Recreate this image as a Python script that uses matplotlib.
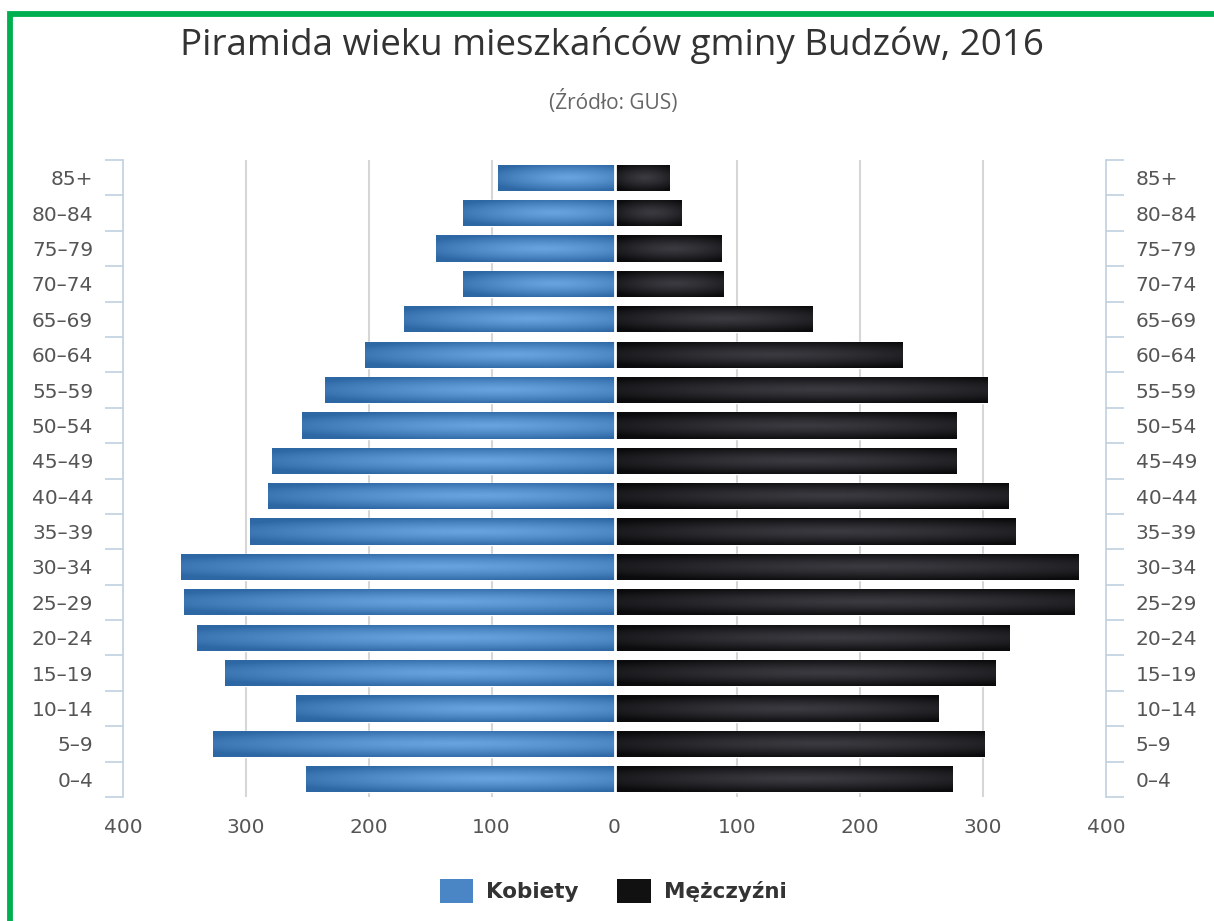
import numpy as np
import matplotlib
matplotlib.use("Agg")
import matplotlib.pyplot as plt
from matplotlib.patches import Rectangle
from matplotlib.colors import to_rgb

# ---- data ----
age_groups = ["0–4", "5–9", "10–14", "15–19", "20–24", "25–29", "30–34", "35–39",
              "40–44", "45–49", "50–54", "55–59", "60–64", "65–69", "70–74",
              "75–79", "80–84", "85+"]
kobiety = [251, 327, 259, 317, 340, 350, 353, 297, 282, 279, 254, 236, 203, 171, 123, 145, 123, 95]
mezczyzni = [275, 301, 263, 310, 321, 374, 377, 326, 320, 278, 278, 303, 234, 161, 88, 87, 54, 44]
x_ticks = [-400, -300, -200, -100, 0, 100, 200, 300, 400]

title = "Piramida wieku mieszkańców gminy Budzów, 2016"
subtitle = "(Źródło: GUS)"
series_names = ["Kobiety", "Mężczyźni"]

W, H = 1214, 921
fig = plt.figure(figsize=(W / 100, H / 100), dpi=100)
fig.patch.set_facecolor("white")

ax = fig.add_axes([123 / W, 1 - 797 / H, (1106 - 123) / W, (797 - 160) / H])
ax.set_xlim(-400, 400)
ax.set_ylim(-0.5, len(age_groups) - 0.5)

axis_col = "#c0d0e0"
label_col = "#555555"
tick_font = "DejaVu Sans"


def gradient_img(light, dark, cx):
    ny, nx = 40, 200
    yy, xx = np.mgrid[0:1:ny * 1j, 0:1:nx * 1j]
    t = np.sqrt(((xx - cx) / 0.75) ** 2 + ((yy - 0.5) / 0.55) ** 2)
    t = np.clip(t, 0, 1) ** 1.3
    l = np.array(to_rgb(light))
    d = np.array(to_rgb(dark))
    return l[None, None, :] * (1 - t[..., None]) + d[None, None, :] * t[..., None]


blue_img = gradient_img("#68a3df", "#2d67a4", 0.6)
black_img = gradient_img("#3a3a40", "#0b0b0d", 0.55)

ypos = np.arange(len(age_groups))
bh = 0.74
bars_k = ax.barh(ypos, [-v for v in kobiety], height=bh, color="#4a86c5",
                 edgecolor="white", linewidth=1.0, zorder=3)
bars_m = ax.barh(ypos, mezczyzni, height=bh, color="#1a1a1c",
                 edgecolor="white", linewidth=1.0, zorder=3)

for bars, img in ((bars_k, blue_img), (bars_m, black_img)):
    for b in bars:
        x0, y0 = b.get_x(), b.get_y()
        w, h = b.get_width(), b.get_height()
        xl, xr = min(x0, x0 + w), max(x0, x0 + w)
        im = ax.imshow(img, extent=(xl, xr, y0, y0 + h), aspect="auto",
                       origin="upper", zorder=3.5, interpolation="bilinear")
        im.set_clip_path(b)

# white separation at 0
ax.axvline(0, color="white", lw=2.0, zorder=4)

# grid
for xv in x_ticks:
    if xv not in (0, -400, 400):
        ax.axvline(xv, color="#d6d6d6", lw=1.5, zorder=1)

ax.set_xticks(x_ticks)
ax.set_xticklabels([str(abs(v)) for v in x_ticks], family=tick_font)
ax.tick_params(axis="x", length=0, pad=15, labelsize=14.5, labelcolor=label_col)

ax.set_yticks(ypos)
ax.set_yticklabels(age_groups, family=tick_font)
ax.set_yticks(np.arange(-0.5, len(age_groups)), minor=True)
ax.tick_params(axis="y", which="major", length=0, pad=21.5, labelsize=14.5,
               labelcolor=label_col, left=False, right=False,
               labelleft=True, labelright=True)
ax.tick_params(axis="y", which="minor", length=13, width=1.2, color=axis_col,
               left=True, right=True, direction="out")
for lab in ax.get_yticklabels(which="major"):
    lab.set_family(tick_font)

for s in ("top", "bottom"):
    ax.spines[s].set_visible(False)
for s in ("left", "right"):
    ax.spines[s].set_color(axis_col)
    ax.spines[s].set_linewidth(1.2)

# title / subtitle
fig.text(612 / W, 1 - 45 / H, title, ha="center", va="center", fontsize=26.5,
         color="#333333", family="Open Sans")
fig.text(613 / W, 1 - 102 / H, subtitle, ha="center", va="center", fontsize=15,
         color="#666666", family="Open Sans")

# legend
handles = [Rectangle((0, 0), 1, 1, facecolor="#4a86c5", edgecolor="none"),
           Rectangle((0, 0), 1, 1, facecolor="#111111", edgecolor="none")]
leg = fig.legend(handles, series_names, loc="center", bbox_to_anchor=(613 / W, 1 - 891 / H),
                 ncol=2, frameon=False, handlelength=1.55, handleheight=1.3,
                 columnspacing=1.8, handletextpad=0.6,
                 prop={"family": "DejaVu Sans", "weight": "bold", "size": 15.5})
for t in leg.get_texts():
    t.set_color("#333333")

# green frame
fig.patches.append(Rectangle((9.5 / W, -0.1), 1.2, (H - 13.75) / H + 0.1,
                             transform=fig.transFigure, fill=False,
                             edgecolor="#00b050", linewidth=4.2))

fig.savefig("out.png", dpi=100, facecolor="white")
